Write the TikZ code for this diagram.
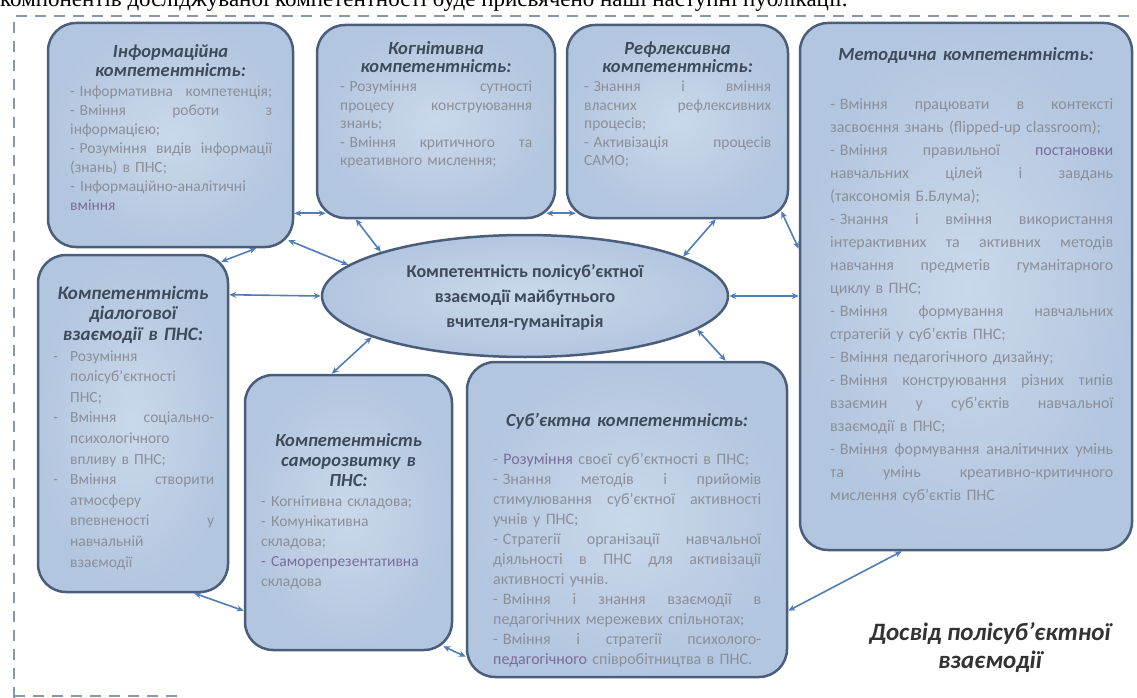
\documentclass[tikz,border=0pt]{standalone}
\usepackage{fontspec}
\setmainfont{Carlito}
\newfontfamily\tnr{Liberation Serif}
\usetikzlibrary{shapes.geometric,calc,arrows.meta}
\definecolor{boxin}{HTML}{CAD8EB}
\definecolor{boxout}{HTML}{B3C6DF}
\definecolor{boxline}{HTML}{4A5E7C}
\definecolor{arrcol}{HTML}{4F7DB8}
\definecolor{headcol}{HTML}{3E4A5C}
\definecolor{bodycol}{HTML}{8A8F99}
\definecolor{purp}{HTML}{7A6E98}
\definecolor{framecol}{HTML}{8797AE}
\newcommand\jl[1]{\makebox[\hsize][s]{\spaceskip=.3em plus 1fil\relax #1}}
\newcommand\hb{\llap{-\hspace{12pt}}}
\newcommand\dd{-\kern.3em}
\begin{document}
\begin{tikzpicture}[x=1pt,y=-1pt,
  box/.style={draw=boxline, line width=2.5pt, inner color=boxin, outer color=boxout, rounded corners=28pt, inner sep=0pt},
  arr/.style={arrcol, line width=1.6pt, {Stealth[length=7pt,width=6pt]}-{Stealth[length=7pt,width=6pt]}},
  head/.style={text=headcol, font=\fontsize{18.5}{19}\selectfont\bfseries\itshape, align=center, inner sep=0pt, anchor=base},
  body/.style={text=bodycol, font=\fontsize{15.5}{19}\selectfont, align=left, inner sep=0pt, anchor=base west},
  frame/.style={framecol, line width=2.5pt, dash pattern=on 11pt off 8pt}]
\useasboundingbox (0,0) rectangle (1137,698);

\node[anchor=base west, inner sep=0pt, font=\tnr\fontsize{23}{24}\selectfont] (toptext) at (0,7) {компонентів досліджуваної компетентності буде присвячено наші наступні публікації.};

\draw[frame] (14,698) -- (14,16) -- (1137,16);
\draw[frame] (14,696) -- (180,696);

% boxes
\node[box, minimum width=245, minimum height=224] (b1) at (170.5,135) {};
\node[box, minimum width=238, minimum height=193] (b2) at (436,121.5) {};
\node[box, minimum width=221, minimum height=193] (b3) at (677.5,121.5) {};
\node[box, minimum width=332, minimum height=527] (b4) at (966,286.5) {};
\node[box, minimum width=190, minimum height=337] (b5) at (133,423.5) {};
\node[box, minimum width=207, minimum height=275] (b6) at (348.5,512.5) {};
\node[box, minimum width=320, minimum height=315] (b7) at (627,519.5) {};
\node[ellipse, draw=boxline, line width=2.5pt, inner color=boxin, outer color=boxout, minimum width=406, minimum height=122, inner sep=0pt] (ell) at (525,296) {};

% arrows
\draw[arr] ($(b1.south east)+(0,-35)$) -- ($(b2.south west)+(10,-6)$);
\draw[arr] ($(b2.south east)+(-10,-6)$) -- ($(b3.south west)+(10,-6)$);
\draw[arr] ($(b1.south east)+(-6,-8)$) -- (ell.170);
\draw[arr] ($(b2.south west)+(40,0)$) -- (ell.163);
\draw[arr] ($(b5.north east)+(-8,8)$) -- ($(b1.south east)+(-38,0)$);
\draw[arr] ($(b5.north east)+(0,41)$) -- (ell.west);
\draw[arr] (ell.195) -- ($(b6.north west)+(88,0)$);
\draw[arr] (ell.14) -- ($(b3.south west)+(150,0)$);
\draw[arr] (ell.east) -- (b4.west |- ell.east);
\draw[arr] ($(b3.south east)+(-8,-8)$) -- ($(b4.north west)+(0,227)$);
\draw[arr] (ell.-11) -- ($(b7.north west)+(260,0)$);
\draw[arr] ($(b4.south west)+(103,0)$) -- ($(b7.north east)+(0,250)$);
\draw[arr] ($(b5.south east)+(-35,0)$) -- ($(b6.north west)+(0,237)$);
\draw[arr] ($(b6.south east)+(-10,-5)$) -- ($(b7.north west)+(0,296)$);

% ellipse text
\node[text=headcol, font=\fontsize{18}{25}\selectfont\bfseries, align=center, inner sep=0pt] (ellt) at (525,297) {Компетентність полісуб’єктної\\взаємодії майбутнього\\вчителя-гуманітарія};

% box 1
\node[head, text width=240] (h1) at (170.5,58) {Інформаційна\\компетентність:};
\node[body, text width=202] (t1) at (70,97) {\jl{\dd Інформативна компетенція;}\\
\jl{\dd Вміння роботи з}\\
інформацією;\\
\jl{\dd Розуміння видів інформації}\\
(знань) в ПНС;\\
- Інформаційно-аналітичні\\
{\color{purp}вміння}};

% box 2
\node[head, text width=230, font=\fontsize{18.5}{18}\selectfont\bfseries\itshape] (h2) at (436,55) {Когнітивна\\компетентність:};
\node[body, text width=192, font=\fontsize{15.5}{18.5}\selectfont] (t2) at (340,92) {\jl{\dd Розуміння сутності}\\
\jl{процесу конструювання}\\
знань;\\
\jl{\dd Вміння критичного та}\\
креативного мислення;};

% box 3
\node[head, text width=215, font=\fontsize{18.5}{18}\selectfont\bfseries\itshape] (h3) at (677.5,55) {Рефлексивна\\компетентність:};
\node[body, text width=187, font=\fontsize{15.5}{18.5}\selectfont] (t3) at (584,92) {\jl{\dd Знання і вміння}\\
\jl{власних рефлексивних}\\
процесів;\\
\jl{\dd Активізація процесів}\\
САМО;};

% box 4
\node[head, text width=320] (h4) at (966,61) {Методична компетентність:};
\node[body, text width=283, font=\fontsize{16}{23}\selectfont] (t4) at (830,110) {\jl{\dd Вміння працювати в контексті}\\
засвоєння знань (flipped-up classroom);\\
\jl{\dd Вміння правильної {\color{purp}постановки}}\\
\jl{навчальних цілей і завдань}\\
(таксономія Б.Блума);\\
\jl{\dd Знання і вміння використання}\\
\jl{інтерактивних та активних методів}\\
\jl{навчання предметів гуманітарного}\\
циклу в ПНС;\\
\jl{\dd Вміння формування навчальних}\\
стратегій у суб’єктів ПНС;\\
- Вміння педагогічного дизайну;\\
\jl{\dd Вміння конструювання різних типів}\\
\jl{взаємин у суб’єктів навчальної}\\
взаємодії в ПНС;\\
\jl{\dd Вміння формування аналітичних умінь}\\
\jl{та умінь креативно-критичного}\\
мислення суб’єктів ПНС};

% box 5
\node[head, text width=188, font=\fontsize{19}{20.6}\selectfont\bfseries\itshape] (h5) at (133,299) {Компетентність\\діалогової\\взаємодії в ПНС:};
\node[body, text width=144, font=\fontsize{15.5}{20.6}\selectfont] (t5) at (70,361) {\hb Розуміння\\
полісуб’єктності\\
ПНС;\\
\jl{\hb Вміння соціально-}\\
психологічного\\
впливу в ПНС;\\
\jl{\hb Вміння створити}\\
атмосферу\\
\jl{впевненості у}\\
навчальній\\
взаємодії};

% box 6
\node[head, text width=200, font=\fontsize{18.5}{20}\selectfont\bfseries\itshape] (h6) at (348.5,446) {Компетентність\\саморозвитку в\\ПНС:};
\node[body, text width=180, font=\fontsize{15.5}{20}\selectfont] (t6) at (261,506) {- Когнітивна складова;\\
- Комунікативна\\
складова;\\
{\color{purp}- Саморепрезентативна}\\
складова};

% box 7
\node[head, text width=310] (h7) at (627,426) {Суб’єктна компетентність:};
\node[body, text width=268, font=\fontsize{16}{20}\selectfont] (t7) at (493,464) {- {\color{purp}Розуміння} своєї суб’єктності в ПНС;\\
\jl{\dd Знання методів і прийомів}\\
\jl{стимулювання суб’єктної активності}\\
учнів у ПНС;\\
\jl{\dd Стратегії організації навчальної}\\
\jl{діяльності в ПНС для активізації}\\
активності учнів.\\
\jl{\dd Вміння і знання взаємодії в}\\
педагогічних мережевих спільнотах;\\
\jl{\dd Вміння і стратегії психолого-}\\
{\color{purp}педагогічного} співробітництва в ПНС.};

% caption
\node[text=black!80, font=\fontsize{25}{28}\selectfont\bfseries\itshape, align=center, inner sep=0pt, anchor=base] (cap) at (990,668) {Досвід полісуб’єктної\\взаємодії};
\end{tikzpicture}
\end{document}
